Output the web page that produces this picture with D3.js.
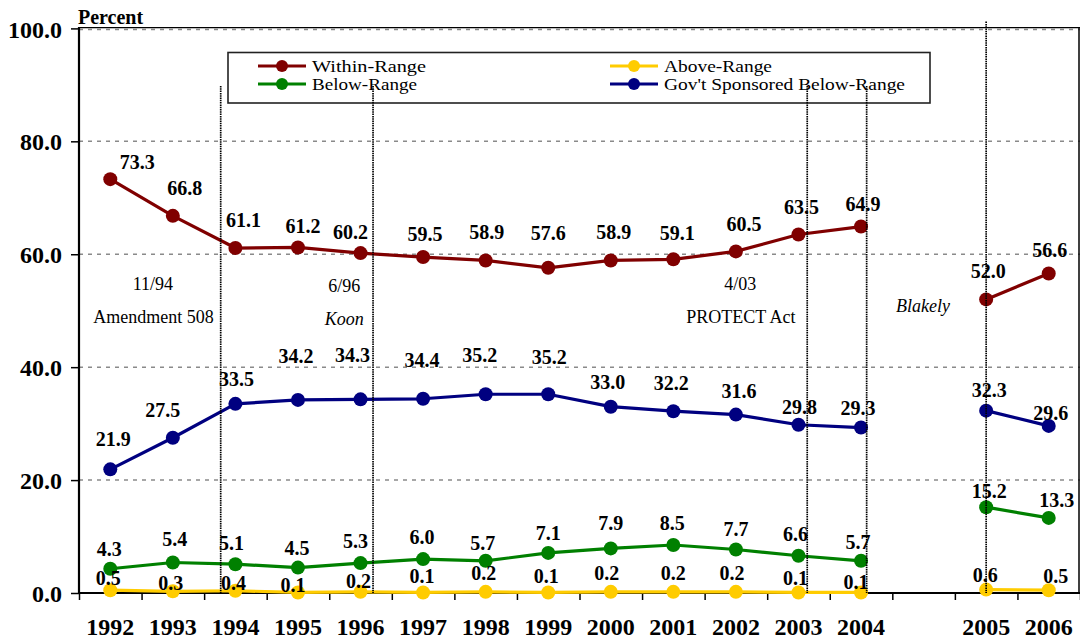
<!DOCTYPE html>
<html><head><meta charset="utf-8">
<script src="https://cdn.jsdelivr.net/npm/d3@7"></script>
<style>
html,body{margin:0;padding:0;background:#fff;}
svg{display:block;}
text{font-family:"Liberation Serif","Times New Roman",serif;}
</style></head>
<body>
<svg id="chart" width="1080" height="640"></svg>
<script>
// ---- data ----
const categories = ["1992","1993","1994","1995","1996","1997","1998","1999","2000","2001","2002","2003","2004","","2005","2006"];
const withinRange = [73.3,66.8,61.1,61.2,60.2,59.5,58.9,57.6,58.9,59.1,60.5,63.5,64.9,null,52.0,56.6];
const belowRange  = [4.3,5.4,5.1,4.5,5.3,6.0,5.7,7.1,7.9,8.5,7.7,6.6,5.7,null,15.2,13.3];
const aboveRange  = [0.5,0.3,0.4,0.1,0.2,0.1,0.2,0.1,0.2,0.2,0.2,0.1,0.1,null,0.6,0.5];
const govBelow    = [21.9,27.5,33.5,34.2,34.3,34.4,35.2,35.2,33.0,32.2,31.6,29.8,29.3,null,32.3,29.6];
const yTicks = [0,20,40,60,80,100];
// event markers (category-index position, top value)
const eventPos = [1.765, 4.20, 11.14, 12.09, 14.0];
const eventTop = [89.8, 89.8, 89.8, 89.8, 101.2];
const annotations = [
  {text:"11/94", i:0.68, v:53.7, italic:false},
  {text:"Amendment 508", i:0.69, v:47.9, italic:false},
  {text:"6/96", i:3.74, v:53.3, italic:false},
  {text:"Koon", i:3.74, v:47.5, italic:true},
  {text:"4/03", i:10.07, v:53.7, italic:false},
  {text:"PROTECT Act", i:10.08, v:47.8, italic:false},
  {text:"Blakely", i:12.99, v:49.8, italic:true}
];
// label placement offsets (px) relative to each point
const withinLabelDy = [-17,-28,-28,-21,-21,-23,-28,-35,-28,-26,-27,-27,-23,0,-28,-23];
const withinLabelDx = [27,12,8,5,-10,2,1,0,3,4,8,3,2,0,2,1];
const govLabelDy = [-30,-28,-25,-44,-44,-39,-39,-37,-25,-28,-24,-18,-20,0,-21,-13];
const govLabelDx = [3,-10,1,-2,-8,-1,-6,1,-3,-2,3,1,-3,0,3,2];
const belowLabelDy = [-20,-24,-21,-20,-22,-22,-18,-20,-25,-22,-21,-22,-19,0,-16,-18];
const belowLabelDx = [-1,2,-4,-1,-5,-1,-3,0,0,-1,0,-3,-3,0,3,8];
const aboveLabelDy = [-12,-8,-8,-7,-11,-16,-19,-16,-19,-19,-19,-14,-10,0,-15,-14];
const aboveLabelDx = [-2,-2,-2,-5,-2,-1,-2,-2,-4,0,-4,-3,-5,0,-1,7];
const legendTextWidth = [114, 105, 108, 241];

const series = [
  {name:"Within-Range", values:withinRange, color:"#800000", dx:withinLabelDx, dy:withinLabelDy},
  {name:"Below-Range", values:belowRange, color:"#008000", dx:belowLabelDx, dy:belowLabelDy},
  {name:"Above-Range", values:aboveRange, color:"#FFCC00", dx:aboveLabelDx, dy:aboveLabelDy},
  {name:"Gov't Sponsored Below-Range", values:govBelow, color:"#000080", dx:govLabelDx, dy:govLabelDy}
];

// ---- layout ----
const svg = d3.select("#chart");
const pL = 79, pR = 1080, pT = 28.4, pB = 593;
const xi = d3.scaleLinear().domain([-0.5, categories.length - 0.5]).range([pL, pR]);
const xb = d3.scaleBand().domain(d3.range(categories.length)).range([pL, pR]);
const y = d3.scaleLinear().domain([0, 100]).range([pB, pT]);

// gridlines
svg.append("g").selectAll("line").data(yTicks.filter(d => d > 0)).join("line")
  .attr("x1", pL).attr("x2", pR)
  .attr("y1", d => y(d) + (d === 100 ? 1 : 0)).attr("y2", d => y(d) + (d === 100 ? 1 : 0))
  .attr("stroke", "#8a8a8a").attr("stroke-width", 1.5).attr("stroke-dasharray", "4,5");

// top and right border
svg.append("line").attr("x1", pL).attr("x2", pR).attr("y1", y(100) - 0.8).attr("y2", y(100) - 0.8)
  .attr("stroke", "#000").attr("stroke-width", 1.3);
svg.append("line").attr("x1", pR - 1).attr("x2", pR - 1).attr("y1", y(100) - 1).attr("y2", pB)
  .attr("stroke", "#000").attr("stroke-width", 1.5);

// y axis
const yAxis = svg.append("g").attr("transform", `translate(${pL},0)`)
  .call(d3.axisLeft(y).tickValues(yTicks).tickSize(8).tickPadding(9).tickFormat(d3.format(".1f")));
yAxis.select(".domain").attr("stroke", "#000").attr("stroke-width", 2.2).attr("d", `M0,${y(100)-1.5}V${pB}`);
yAxis.selectAll(".tick line").attr("stroke", "#000").attr("stroke-width", 1.5);
yAxis.selectAll(".tick text").attr("font-family", "Liberation Serif").attr("font-weight", "bold")
  .attr("font-size", 24).attr("fill", "#000").attr("dy", "0.36em");

// x axis: boundary ticks
const xTickAxis = svg.append("g").attr("transform", `translate(0,${pB})`)
  .call(d3.axisBottom(xi).tickValues(d3.range(-0.5, categories.length, 1)).tickSize(7).tickFormat(""));
xTickAxis.select(".domain").attr("stroke", "#000").attr("stroke-width", 2.2).attr("d", `M${pL},0H${pR}`);
xTickAxis.selectAll(".tick line").attr("stroke", "#000").attr("stroke-width", 1.5);
// x axis: labels
const xLabAxis = svg.append("g").attr("transform", `translate(0,${pB})`)
  .call(d3.axisBottom(xb).tickSize(0).tickPadding(30).tickFormat(i => categories[i]));
xLabAxis.select(".domain").remove();
xLabAxis.selectAll(".tick text").attr("font-family", "Liberation Serif").attr("font-weight", "bold")
  .attr("font-size", 24).attr("fill", "#000").attr("dy", "0.5em");

// y title
svg.append("text").attr("x", 78).attr("y", 24).text("Percent")
  .attr("font-weight", "bold").attr("font-size", 20);

// annotations
svg.append("g").selectAll("text").data(annotations).join("text")
  .attr("x", d => xi(d.i)).attr("y", d => y(d.v))
  .attr("text-anchor", "middle").attr("font-size", 18)
  .attr("font-style", d => d.italic ? "italic" : "normal")
  .text(d => d.text);

// lines + markers
const line = d3.line().defined(d => d.v != null).x(d => xi(d.i)).y(d => y(d.v));
series.forEach(s => {
  const pts = s.values.map((v, i) => ({i, v}));
  svg.append("path").datum(pts).attr("d", line).attr("fill", "none")
    .attr("stroke", s.color).attr("stroke-width", 3.2).attr("stroke-linejoin", "round");
  svg.append("g").selectAll("circle").data(pts.filter(d => d.v != null)).join("circle")
    .attr("cx", d => xi(d.i)).attr("cy", d => y(d.v)).attr("r", 7).attr("fill", s.color);
});

// legend box
svg.append("rect").attr("x", 228).attr("y", 52.5).attr("width", 702).attr("height", 50.5)
  .attr("fill", "#fff").attr("stroke", "#222").attr("stroke-width", 1.6);
const legendPos = [
  {x:258, y:66}, {x:258, y:84}, {x:610, y:66}, {x:610, y:84}
];
series.forEach((s, k) => {
  const p = legendPos[k];
  const g = svg.append("g");
  g.append("line").attr("x1", p.x).attr("x2", p.x + 48).attr("y1", p.y).attr("y2", p.y)
    .attr("stroke", s.color).attr("stroke-width", 3.2);
  g.append("circle").attr("cx", p.x + 24).attr("cy", p.y).attr("r", 6).attr("fill", s.color);
  g.append("text").attr("x", p.x + 54).attr("y", p.y).attr("dy", "0.33em")
    .attr("font-size", 17).attr("textLength", legendTextWidth[k]).attr("lengthAdjust", "spacingAndGlyphs")
    .text(s.name);
});

// event lines (drawn on top)
svg.append("g").selectAll("line").data(eventPos).join("line")
  .attr("x1", d => xi(d)).attr("x2", d => xi(d))
  .attr("y1", (d, k) => y(eventTop[k])).attr("y2", pB)
  .attr("stroke", "#000").attr("stroke-width", 1.7).attr("stroke-dasharray", "1.5,0.8");

// data labels
series.forEach(s => {
  svg.append("g").selectAll("text").data(s.values.map((v, i) => ({i, v})).filter(d => d.v != null)).join("text")
    .attr("x", d => xi(d.i) + s.dx[d.i]).attr("y", d => y(d.v) + s.dy[d.i])
    .attr("dy", "0.35em").attr("text-anchor", "middle")
    .attr("font-weight", "bold").attr("font-size", 20)
    .text(d => d3.format(".1f")(d.v));
});
</script>
</body></html>
